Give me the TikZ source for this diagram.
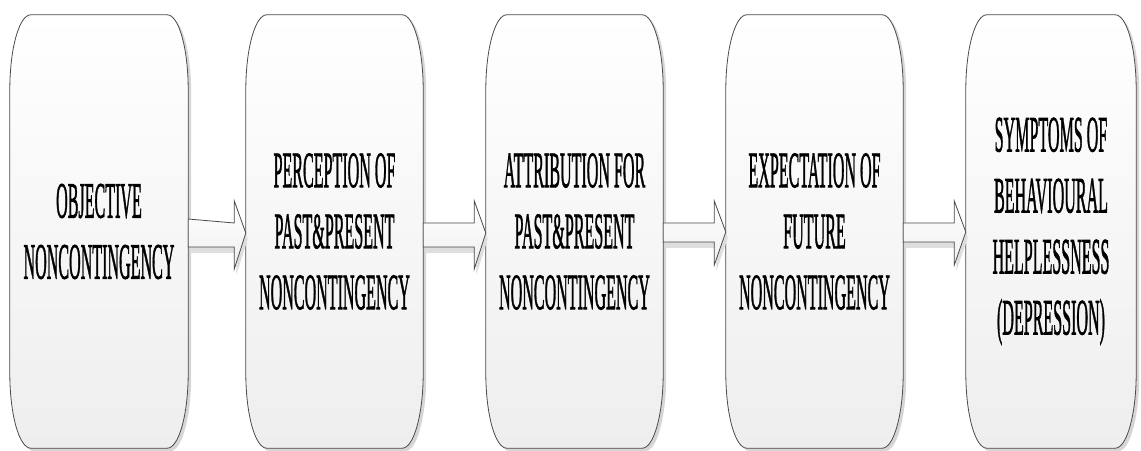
\documentclass[tikz,border=0pt]{standalone}
\usepackage{fontspec}
\setmainfont{Liberation Serif}
\newfontfamily\labelfont[FakeBold=1.8]{Liberation Serif}
\usepackage{graphicx}
\usetikzlibrary{backgrounds,calc}
\definecolor{edgegray}{HTML}{4A4A4A}
\definecolor{boxlow}{HTML}{EEEEEE}
\newcommand\sq[1]{\scalebox{0.315}[1]{#1}}
\newcommand\roundbox[2][]{%
  \path[#1] ([yshift=75pt]#2.south west) -- ([yshift=-75pt]#2.north west)
    arc[start angle=180,end angle=90,x radius=21pt,y radius=75pt]
    -- ([xshift=-21pt]#2.north east)
    arc[start angle=90,end angle=0,x radius=21pt,y radius=75pt]
    -- ([yshift=75pt]#2.south east)
    arc[start angle=0,end angle=-90,x radius=21pt,y radius=75pt]
    -- ([xshift=21pt]#2.south west)
    arc[start angle=270,end angle=180,x radius=21pt,y radius=75pt]
    -- cycle;}
% #1 options, #2 from, #3 to, #4 shaft top left, #5 shaft top right, #6 shaft bottom, #7 head top, #8 head bottom, #9 tip
\newcommand\barrow[9]{%
  \path[#1] ([yshift=#4]#2.east) -- ($(#3.west)+(-11.5,#5)$) -- ($(#3.west)+(-11.5,#7)$)
    -- ($(#3.west)+(0,#9)$) -- ($(#3.west)+(-11.5,#8)$) -- ($(#3.west)+(-11.5,#6)$)
    -- ([yshift=#6]#2.east) -- cycle;}
\begin{document}
\begin{tikzpicture}[x=1pt,y=1pt,
  boxtext/.style={draw=none, align=center, inner sep=0pt,
    font=\labelfont\fontsize{51}{61}\selectfont, minimum height=433pt},
  boxfill/.style={draw=edgegray, line width=0.8pt, top color=white, bottom color=boxlow},
  boxshadow/.style={fill=black!16},
  arrowfill/.style={draw=edgegray, line width=0.8pt, top color=white, bottom color=black!6},
  arrowshadow/.style={fill=black!13},
]
\useasboundingbox (0,0) rectangle (1141,450);
\node[boxtext, minimum width=178pt] (b1) at (99,218.5) {\sq{OBJECTIVE}\\\sq{NONCONTINGENCY}};
\node[boxtext, minimum width=177pt] (b2) at (334.5,218.5) {\sq{PERCEPTION OF}\\\sq{PAST\&PRESENT}\\\sq{NONCONTINGENCY}};
\node[boxtext, minimum width=177pt] (b3) at (574.5,218.5) {\sq{ATTRIBUTION FOR}\\\sq{PAST\&PRESENT}\\\sq{NONCONTINGENCY}};
\node[boxtext, minimum width=177pt] (b4) at (814.5,218.5) {\sq{EXPECTATION OF}\\\sq{FUTURE}\\\sq{NONCONTINGENCY}};
\node[boxtext, minimum width=170pt] (b5) at (1051,218.5) {\sq{SYMPTOMS OF}\\\sq{BEHAVIOURAL}\\\sq{HELPLESSNESS}\\\sq{(DEPRESSION)}};
\begin{pgfonlayer}{background}
  \begin{scope}[transform canvas={shift={(3pt,-3pt)}}]
    \foreach \b in {b1,b2,b3,b4,b5} {\roundbox[boxshadow]{\b}}
  \end{scope}
  \foreach \b in {b1,b2,b3,b4,b5} {\roundbox[boxfill]{\b}}
  \begin{scope}[transform canvas={shift={(2pt,-6pt)}}]
    \barrow{arrowshadow}{b1}{b2}{12.5}{8.5}{-15.5}{30.5}{-37.5}{-1.5}
    \barrow{arrowshadow}{b2}{b3}{8.5}{8.5}{-15.5}{30.5}{-37.5}{-1.5}
    \barrow{arrowshadow}{b3}{b4}{8.5}{8.5}{-10.5}{30.5}{-33.5}{-0.5}
    \barrow{arrowshadow}{b4}{b5}{8.5}{8.5}{-10.5}{30.5}{-33.5}{-0.5}
  \end{scope}
  \barrow{arrowfill}{b1}{b2}{12.5}{8.5}{-15.5}{30.5}{-37.5}{-1.5}
  \barrow{arrowfill}{b2}{b3}{8.5}{8.5}{-15.5}{30.5}{-37.5}{-1.5}
  \barrow{arrowfill}{b3}{b4}{8.5}{8.5}{-10.5}{30.5}{-33.5}{-0.5}
  \barrow{arrowfill}{b4}{b5}{8.5}{8.5}{-10.5}{30.5}{-33.5}{-0.5}
\end{pgfonlayer}
\end{tikzpicture}
\end{document}
